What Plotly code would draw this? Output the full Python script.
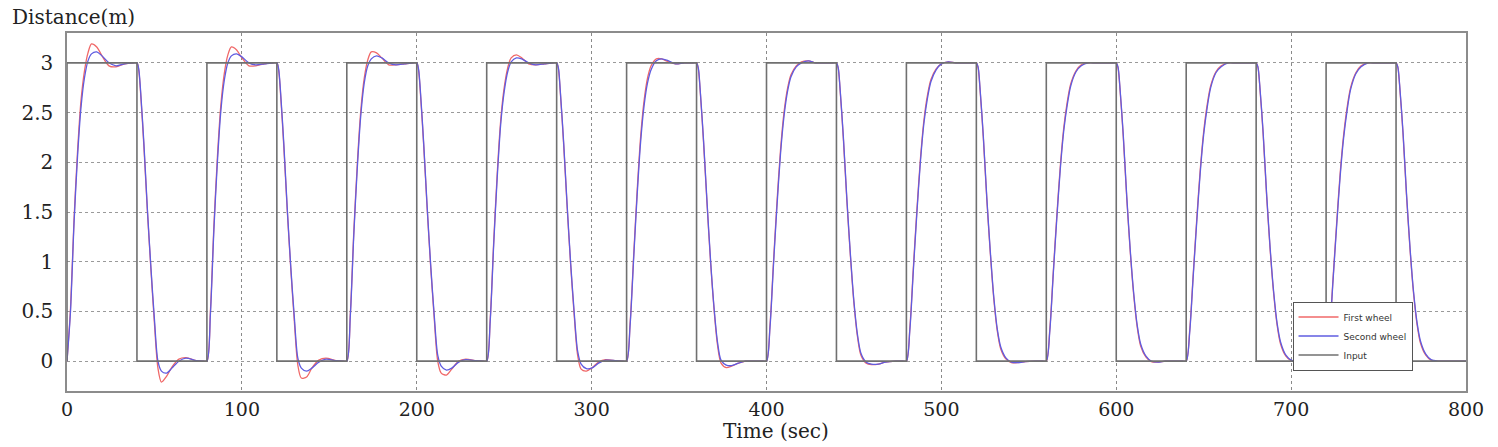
import plotly.graph_objects as go

# sample times (sec), one row per input cycle
time = [
    0, 2, 4, 6, 8, 10, 12, 14, 17, 20, 24, 28, 33, 38, 40, 41, 42, 44, 46, 48, 50, 52, 54, 57, 60, 64, 68, 74, 78,
    80, 82, 84, 86, 88, 90, 92, 94, 97, 100, 104, 108, 113, 118, 120, 121, 122, 124, 126, 128, 130, 132, 134, 137, 140, 144, 148, 154, 158,
    160, 162, 164, 166, 168, 170, 172, 174, 177, 180, 184, 188, 193, 198, 200, 201, 202, 204, 206, 208, 210, 212, 214, 217, 220, 224, 228, 234, 238,
    240, 242, 244, 246, 248, 250, 252, 254, 257, 260, 264, 268, 273, 278, 280, 281, 282, 284, 286, 288, 290, 292, 294, 297, 300, 304, 308, 314, 318,
    320, 322, 324, 326, 328, 330, 332, 334, 337, 340, 344, 348, 353, 358, 360, 361, 362, 364, 366, 368, 370, 372, 374, 377, 380, 384, 388, 394, 398,
    400, 402, 404, 406, 408, 410, 412, 414, 417, 420, 424, 428, 433, 438, 440, 441, 442, 444, 446, 448, 450, 452, 454, 457, 460, 464, 468, 474, 478,
    480, 482, 484, 486, 488, 490, 492, 494, 497, 500, 504, 508, 513, 518, 520, 521, 522, 524, 526, 528, 530, 532, 534, 537, 540, 544, 548, 554, 558,
    560, 562, 564, 566, 568, 570, 572, 574, 577, 580, 584, 588, 593, 598, 600, 601, 602, 604, 606, 608, 610, 612, 614, 617, 620, 624, 628, 634, 638,
    640, 642, 644, 646, 648, 650, 652, 654, 657, 660, 664, 668, 673, 678, 680, 681, 682, 684, 686, 688, 690, 692, 694, 697, 700, 704, 708, 714, 718,
    720, 722, 724, 726, 728, 730, 732, 734, 737, 740, 744, 748, 753, 758, 760, 761, 762, 764, 766, 768, 770, 772, 774, 777, 780, 784, 788, 794, 798,
    800,
]

first_wheel = [
    0, 0.53, 1.42, 2.1, 2.62, 2.92, 3.1, 3.19, 3.16, 3.07, 2.97, 2.96, 2.99, 3.0,
    3.0, 2.93, 2.72, 2.15, 1.5, 0.92, 0.38, -0.07, -0.21, -0.15, -0.06, 0.02, 0.035, 0.005, 0.0,
    0, 0.5, 1.36, 2.05, 2.58, 2.9, 3.08, 3.16, 3.13, 3.05, 2.97, 2.97, 2.99, 3.0,
    3.0, 2.93, 2.72, 2.15, 1.5, 0.92, 0.4, -0.04, -0.17, -0.16, -0.07, 0.01, 0.03, 0.005, 0.0,
    0, 0.47, 1.3, 1.98, 2.52, 2.85, 3.03, 3.11, 3.1, 3.05, 2.98, 2.98, 2.99, 3.0,
    3.0, 2.93, 2.72, 2.16, 1.52, 0.94, 0.43, 0.0, -0.12, -0.14, -0.08, 0.0, 0.02, 0.005, 0.0,
    0, 0.42, 1.2, 1.88, 2.42, 2.75, 2.95, 3.05, 3.08, 3.05, 2.99, 2.98, 2.99, 3.0,
    3.0, 2.94, 2.73, 2.18, 1.55, 0.97, 0.47, 0.06, -0.08, -0.1, -0.07, -0.01, 0.015, 0.005, 0.0,
    0, 0.38, 1.05, 1.7, 2.25, 2.62, 2.85, 2.97, 3.04, 3.04, 3.01, 2.99, 3.0, 3.0,
    3.0, 2.94, 2.74, 2.2, 1.58, 1.0, 0.52, 0.16, -0.02, -0.065, -0.05, -0.02, 0.0, 0.0, 0.0,
    0, 0.36, 1.0, 1.6, 2.12, 2.5, 2.74, 2.88, 2.97, 3.01, 3.02, 3.0, 3.0, 3.0,
    3.0, 2.95, 2.75, 2.22, 1.6, 1.05, 0.58, 0.25, 0.06, -0.02, -0.035, -0.03, -0.01, 0.0, 0.0,
    0, 0.34, 0.95, 1.52, 2.03, 2.42, 2.67, 2.83, 2.94, 2.99, 3.01, 3.0, 3.0, 3.0,
    3.0, 2.95, 2.76, 2.24, 1.62, 1.08, 0.62, 0.3, 0.12, 0.02, -0.015, -0.015, -0.005, 0.0, 0.0,
    0, 0.32, 0.9, 1.46, 1.96, 2.35, 2.61, 2.79, 2.92, 2.98, 3.0, 3.0, 3.0, 3.0,
    3.0, 2.95, 2.77, 2.26, 1.64, 1.1, 0.66, 0.34, 0.15, 0.04, -0.005, -0.01, 0.0, 0.0, 0.0,
    0, 0.31, 0.87, 1.42, 1.92, 2.31, 2.58, 2.77, 2.91, 2.97, 3.0, 3.0, 3.0, 3.0,
    3.0, 2.96, 2.78, 2.28, 1.66, 1.12, 0.68, 0.36, 0.17, 0.05, 0.005, -0.005, 0.0, 0.0, 0.0,
    0, 0.3, 0.84, 1.38, 1.88, 2.27, 2.55, 2.75, 2.9, 2.97, 3.0, 3.0, 3.0, 3.0,
    3.0, 2.96, 2.78, 2.28, 1.66, 1.12, 0.68, 0.37, 0.18, 0.06, 0.01, 0.0, 0.0, 0.0, 0.0,
    0.0,
]

second_wheel = [
    0, 0.5, 1.38, 2.05, 2.55, 2.85, 3.02, 3.09, 3.11, 3.07, 3.0, 2.97, 2.99, 3.0,
    3.0, 2.94, 2.74, 2.18, 1.52, 0.94, 0.42, 0.0, -0.1, -0.12, -0.07, 0.0, 0.03, 0.005, 0.0,
    0, 0.47, 1.32, 2.0, 2.52, 2.83, 3.0, 3.07, 3.09, 3.06, 3.0, 2.98, 2.99, 3.0,
    3.0, 2.94, 2.74, 2.18, 1.52, 0.94, 0.44, 0.03, -0.07, -0.1, -0.07, -0.01, 0.02, 0.005, 0.0,
    0, 0.45, 1.27, 1.94, 2.47, 2.8, 2.97, 3.04, 3.07, 3.05, 3.0, 2.98, 2.99, 3.0,
    3.0, 2.94, 2.74, 2.18, 1.54, 0.96, 0.46, 0.06, -0.05, -0.09, -0.07, -0.01, 0.015, 0.005, 0.0,
    0, 0.4, 1.17, 1.84, 2.38, 2.71, 2.91, 3.01, 3.05, 3.04, 3.0, 2.98, 2.99, 3.0,
    3.0, 2.95, 2.74, 2.2, 1.57, 0.99, 0.5, 0.1, -0.03, -0.075, -0.07, -0.02, 0.01, 0.005, 0.0,
    0, 0.36, 1.02, 1.66, 2.2, 2.57, 2.8, 2.93, 3.02, 3.04, 3.02, 2.99, 3.0, 3.0,
    3.0, 2.95, 2.75, 2.22, 1.6, 1.02, 0.54, 0.19, 0.01, -0.04, -0.045, -0.02, 0.0, 0.0, 0.0,
    0, 0.34, 0.97, 1.56, 2.08, 2.46, 2.71, 2.86, 2.96, 3.0, 3.02, 3.0, 3.0, 3.0,
    3.0, 2.95, 2.76, 2.24, 1.62, 1.07, 0.6, 0.27, 0.08, -0.01, -0.03, -0.03, -0.01, 0.0, 0.0,
    0, 0.32, 0.92, 1.49, 2.0, 2.39, 2.64, 2.81, 2.93, 2.99, 3.01, 3.0, 3.0, 3.0,
    3.0, 2.96, 2.77, 2.26, 1.64, 1.1, 0.64, 0.32, 0.14, 0.03, -0.01, -0.015, -0.005, 0.0, 0.0,
    0, 0.3, 0.88, 1.43, 1.93, 2.32, 2.58, 2.77, 2.91, 2.97, 3.0, 3.0, 3.0, 3.0,
    3.0, 2.96, 2.78, 2.28, 1.66, 1.12, 0.68, 0.36, 0.17, 0.05, 0.0, -0.01, 0.0, 0.0, 0.0,
    0, 0.29, 0.85, 1.39, 1.89, 2.28, 2.55, 2.75, 2.9, 2.96, 3.0, 3.0, 3.0, 3.0,
    3.0, 2.96, 2.79, 2.3, 1.68, 1.14, 0.7, 0.38, 0.19, 0.06, 0.01, -0.005, 0.0, 0.0, 0.0,
    0, 0.28, 0.82, 1.35, 1.85, 2.24, 2.52, 2.73, 2.89, 2.96, 3.0, 3.0, 3.0, 3.0,
    3.0, 2.96, 2.79, 2.3, 1.68, 1.14, 0.7, 0.39, 0.2, 0.07, 0.015, 0.0, 0.0, 0.0, 0.0,
    0.0,
]

input_time = [0, 0, 40, 40, 80, 80, 120, 120, 160, 160, 200, 200, 240, 240, 280, 280,
              320, 320, 360, 360, 400, 400, 440, 440, 480, 480, 520, 520, 560, 560,
              600, 600, 640, 640, 680, 680, 720, 720, 760, 760, 800]
input_level = [0, 3, 3, 0, 0, 3, 3, 0, 0, 3, 3, 0, 0, 3, 3, 0,
               0, 3, 3, 0, 0, 3, 3, 0, 0, 3, 3, 0, 0, 3,
               3, 0, 0, 3, 3, 0, 0, 3, 3, 0, 0]

x_ticks = [0, 100, 200, 300, 400, 500, 600, 700, 800]
y_ticks = [0, 0.5, 1, 1.5, 2, 2.5, 3]

serif = "DejaVu Serif, Liberation Serif, serif"

fig = go.Figure()
fig.add_trace(go.Scatter(x=time, y=first_wheel, mode="lines", name="First wheel",
                         line=dict(color="#f06868", width=1.3, shape="spline", smoothing=0.8)))
fig.add_trace(go.Scatter(x=time, y=second_wheel, mode="lines", name="Second wheel",
                         line=dict(color="#5f5ce0", width=1.3, shape="spline", smoothing=0.8)))
fig.add_trace(go.Scatter(x=input_time, y=input_level, mode="lines", name="Input",
                         line=dict(color="#707070", width=1.6)))

fig.update_xaxes(range=[0, 800], tickvals=x_ticks, showgrid=True, gridcolor="#8a8a8a",
                 griddash="dot", gridwidth=1, showline=True, linecolor="#8c8c8c", linewidth=1.5,
                 mirror=True, zeroline=False, ticks="", ticklabelstandoff=0,
                 tickfont=dict(family=serif, size=19, color="#222"))
fig.update_yaxes(range=[-0.3, 3.3], tickvals=y_ticks, showgrid=True, gridcolor="#9a9a9a",
                 griddash="dot", gridwidth=1, showline=True, linecolor="#8c8c8c", linewidth=1.5,
                 mirror=True, zeroline=False, ticks="", ticklabelstandoff=8,
                 tickfont=dict(family=serif, size=20, color="#222"))

fig.add_annotation(text="Distance(m)", xref="paper", yref="paper", x=-0.0407, y=1.045,
                   xanchor="left", yanchor="middle", showarrow=False,
                   font=dict(family=serif, size=20, color="#222"))
fig.add_annotation(text="Time (sec)", xref="paper", yref="paper", x=0.507, y=-0.112,
                   xanchor="center", yanchor="middle", showarrow=False,
                   font=dict(family=serif, size=20, color="#222"))

fig.update_layout(
    width=1498, height=447,
    margin=dict(l=67, r=32, t=33, b=56),
    paper_bgcolor="white", plot_bgcolor="white",
    showlegend=True,
    legend=dict(x=0.876, y=0.25, xanchor="left", yanchor="top", bgcolor="white",
                bordercolor="#555", borderwidth=1, tracegroupgap=0, itemwidth=40,
                font=dict(family="DejaVu Sans, Arial, sans-serif", size=9, color="#333")),
)

# drop the browser's default 8px body margin so the figure fills the window
fig.write_html("out.html", config={"displayModeBar": False},
               post_script="document.body.style.margin = '0';")
